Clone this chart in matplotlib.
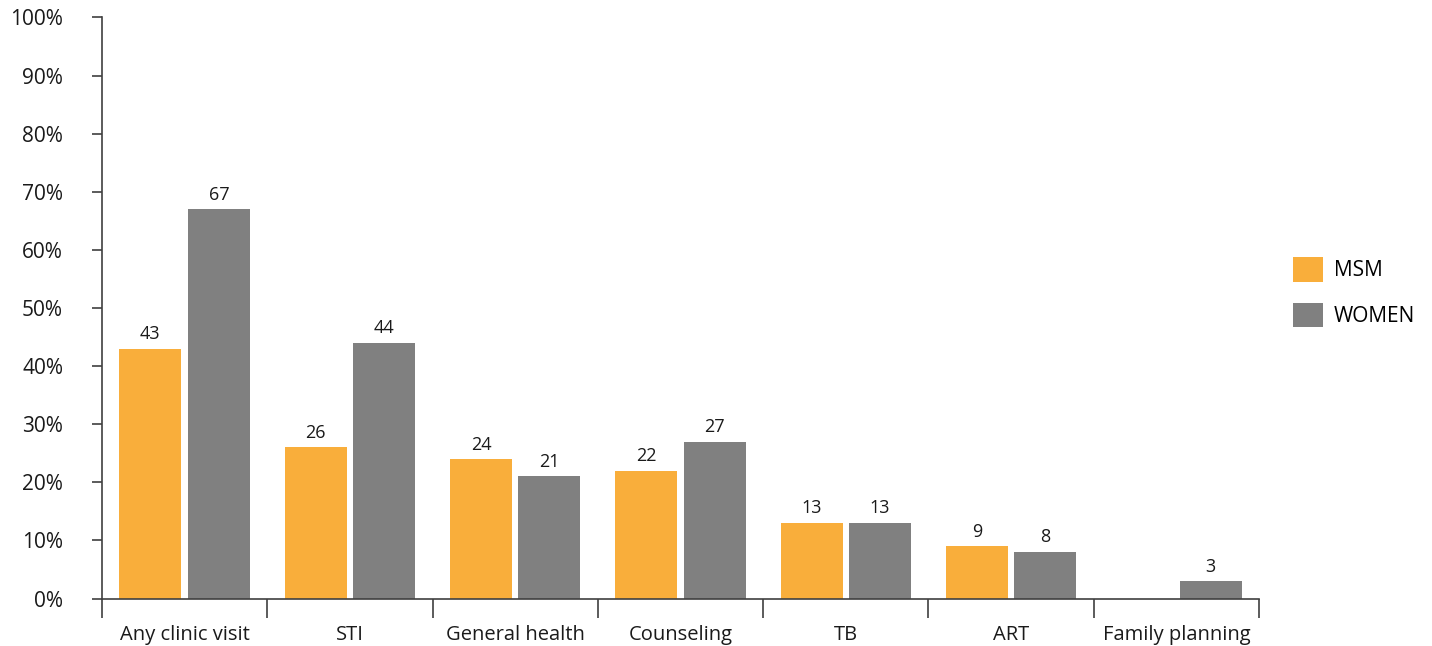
import numpy as np
import matplotlib
matplotlib.use('Agg')
import matplotlib.pyplot as plt

categories = ["Any clinic visit", "STI", "General health", "Counseling", "TB", "ART", "Family planning"]
msm = [43, 26, 24, 22, 13, 9, None]
women = [67, 44, 21, 27, 13, 8, 3]
series_names = ["MSM", "WOMEN"]
yticks = [0, 10, 20, 30, 40, 50, 60, 70, 80, 90, 100]

ORANGE = "#F9AE3B"
GRAY = "#808080"
AXIS = "#404040"

plt.rcParams['font.family'] = ['Open Sans', 'DejaVu Sans']

fig = plt.figure(figsize=(14.32, 6.46), dpi=100)
ax = fig.add_axes([0.0712, 0.0735, 0.8080, 0.8995])

x = np.arange(len(categories)) + 0.5
w = 0.375
off = 0.207

for vals, dx, color, name in [(msm, -off, ORANGE, series_names[0]), (women, off, GRAY, series_names[1])]:
    xs = [xi + dx for xi, v in zip(x, vals) if v is not None]
    hs = [v for v in vals if v is not None]
    bars = ax.bar(xs, hs, width=w, color=color, label=name)
    for b, v in zip(bars, hs):
        ax.annotate(str(v), (b.get_x() + b.get_width() / 2, b.get_height()),
                    xytext=(0, 4), textcoords='offset points',
                    ha='center', va='bottom', fontsize=13, color='#1a1a1a')

ax.set_xlim(0, len(categories))
ax.set_ylim(0, 100)
ax.set_yticks(yticks)
ax.set_yticklabels([f"{t}%" for t in yticks], fontsize=15, color='#1a1a1a')
ax.set_xticks(np.arange(len(categories) + 1))
ax.set_xticklabels([])
ax.set_xticks(x, minor=True)
ax.set_xticklabels(categories, minor=True, fontsize=14.5, color='#1a1a1a')
ax.tick_params(axis='x', which='major', length=14, width=1.2, color=AXIS, direction='out')
ax.tick_params(axis='x', which='minor', length=0, pad=19)
ax.tick_params(axis='y', length=7, width=1.2, color=AXIS, pad=21)

for s in ['top', 'right']:
    ax.spines[s].set_visible(False)
for s in ['left', 'bottom']:
    ax.spines[s].set_color(AXIS)
    ax.spines[s].set_linewidth(1.2)

ax.legend(loc='upper left', bbox_to_anchor=(1293 / 1432, 1 - 257 / 646),
          bbox_transform=fig.transFigure, frameon=False, fontsize=15,
          handlelength=1.45, handleheight=1.45, handletextpad=0.5,
          labelspacing=1.0, borderpad=0, borderaxespad=0)

plt.savefig("out.png", dpi=100)
plt.close()
